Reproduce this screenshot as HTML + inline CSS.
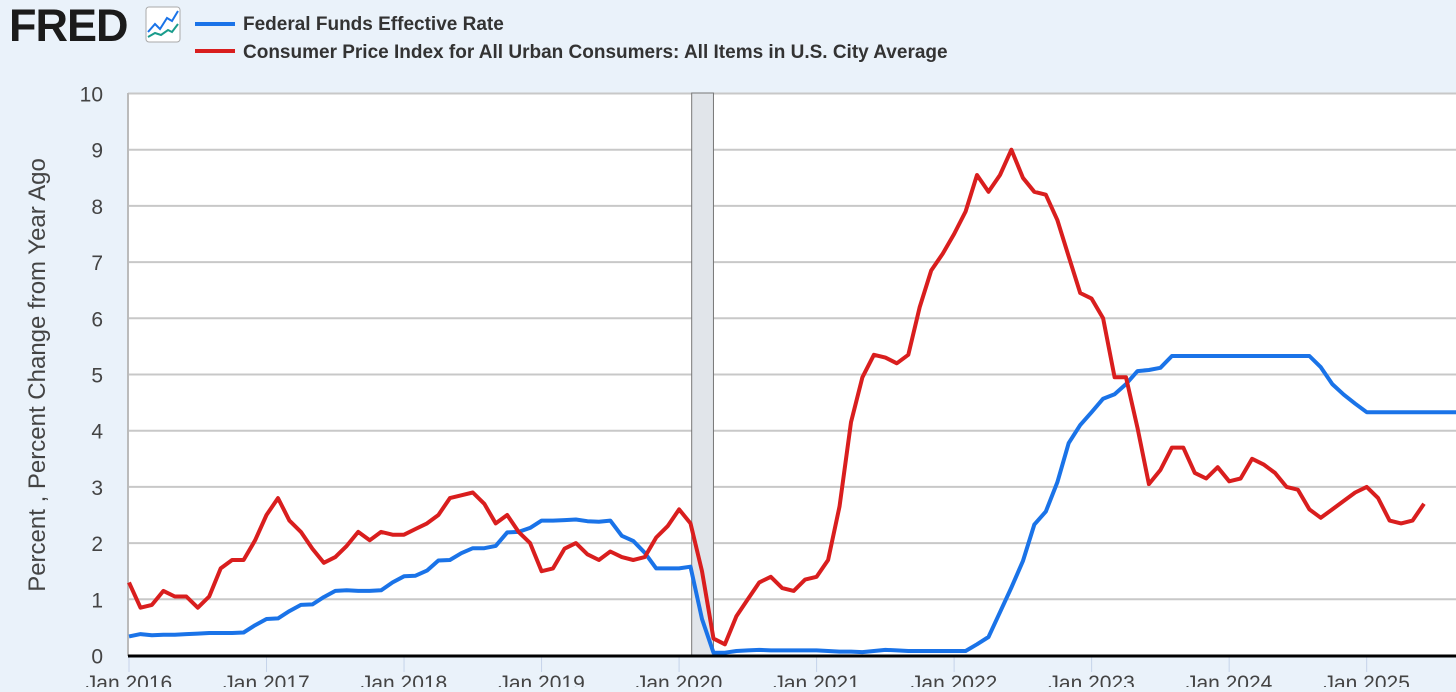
<!DOCTYPE html>
<html><head><meta charset="utf-8"><style>
html,body{margin:0;padding:0;background:#eaf2fa;}
body{width:1456px;height:687px;overflow:hidden;position:relative;font-family:"Liberation Sans",sans-serif;}
</style></head><body>
<svg width="1456" height="687" viewBox="0 0 1456 687" xmlns="http://www.w3.org/2000/svg">
<rect x="0" y="0" width="1456" height="687" fill="#eaf2fa"/>
<text x="9" y="41" font-size="45" font-weight="bold" fill="#1b1b1b" font-family="Liberation Sans, sans-serif" letter-spacing="-1">FRED</text>
<g>
<rect x="146" y="7" width="34" height="35" rx="3" fill="#fff" stroke="#aaa"/>
<polyline points="148,32 155,24 160,29 167,18 172,21 178,11" fill="none" stroke="#1a73e8" stroke-width="2"/>
<polyline points="148,37 155,33 161,35 168,30 172,32 178,24" fill="none" stroke="#1a9c8c" stroke-width="2"/>
</g>
<line x1="195" y1="24" x2="235" y2="24" stroke="#1a73e8" stroke-width="4"/>
<text x="243" y="30" font-size="19" font-weight="bold" fill="#333">Federal Funds Effective Rate</text>
<line x1="195" y1="51" x2="235" y2="51" stroke="#d91e1e" stroke-width="4"/>
<text x="243" y="58" font-size="19" font-weight="bold" fill="#333">Consumer Price Index for All Urban Consumers: All Items in U.S. City Average</text>
<rect x="128" y="93" width="1330" height="563" fill="#fff"/>
<g id="grid"></g>
<g id="rec"></g>
<line x1="128" y1="93" x2="128" y2="656" stroke="#bbb" stroke-width="2"/>
<g id="ylab"></g>
<g id="xlab"></g>
<text transform="translate(45,375) rotate(-90)" text-anchor="middle" font-size="24" fill="#444">Percent , Percent Change from Year Ago</text>
<g id="series"></g>
<line x1="128" y1="656" x2="1456" y2="656" stroke="#000" stroke-width="3"/>
</svg>
<script>
const ffr=[0.34,0.38,0.36,0.37,0.37,0.38,0.39,0.40,0.40,0.40,0.41,0.54,
0.65,0.66,0.79,0.90,0.91,1.04,1.15,1.16,1.15,1.15,1.16,1.30,
1.41,1.42,1.51,1.69,1.70,1.82,1.91,1.91,1.95,2.19,2.20,2.27,
2.40,2.40,2.41,2.42,2.39,2.38,2.40,2.13,2.04,1.83,1.55,1.55,
1.55,1.58,0.65,0.05,0.05,0.08,0.09,0.10,0.09,0.09,0.09,0.09,
0.09,0.08,0.07,0.07,0.06,0.08,0.10,0.09,0.08,0.08,0.08,0.08,
0.08,0.08,0.20,0.33,0.77,1.21,1.68,2.33,2.56,3.08,3.78,4.10,
4.33,4.57,4.65,4.83,5.06,5.08,5.12,5.33,5.33,5.33,5.33,5.33,
5.33,5.33,5.33,5.33,5.33,5.33,5.33,5.33,5.13,4.83,4.64,4.48,
4.33,4.33,4.33,4.33,4.33,4.33,4.33,4.33,4.33];
const cpi=[1.3,0.85,0.9,1.15,1.05,1.05,0.85,1.05,1.55,1.7,1.7,2.05,
2.5,2.8,2.4,2.2,1.9,1.65,1.75,1.95,2.2,2.05,2.2,2.15,
2.15,2.25,2.35,2.5,2.8,2.85,2.9,2.7,2.35,2.5,2.2,2.0,
1.5,1.55,1.9,2.0,1.8,1.7,1.85,1.75,1.7,1.75,2.1,2.3,
2.6,2.35,1.5,0.3,0.2,0.7,1.0,1.3,1.4,1.2,1.15,1.35,
1.4,1.7,2.65,4.15,4.95,5.35,5.3,5.2,5.35,6.2,6.85,7.15,
7.5,7.9,8.55,8.25,8.55,9.0,8.5,8.25,8.2,7.75,7.1,6.45,
6.35,6.0,4.95,4.95,4.05,3.05,3.3,3.7,3.7,3.25,3.15,3.35,
3.1,3.15,3.5,3.4,3.25,3.0,2.95,2.6,2.45,2.6,2.75,2.9,
3.0,2.8,2.4,2.35,2.4,2.7];
const yTicks=[0,1,2,3,4,5,6,7,8,9,10];
const xYears=[2016,2017,2018,2019,2020,2021,2022,2023,2024,2025];
const recession=[49.1,51];
const NS='http://www.w3.org/2000/svg';
const X=m=>129+m*11.46;
const Y=v=>655.5-v*56.2;
function mk(tag,attrs,parent){const e=document.createElementNS(NS,tag);for(const k in attrs)e.setAttribute(k,attrs[k]);parent.appendChild(e);return e;}
const grid=document.getElementById('grid'),ylab=document.getElementById('ylab'),xlab=document.getElementById('xlab'),rec=document.getElementById('rec'),ser=document.getElementById('series');
yTicks.forEach(v=>{
 if(v>0){const g=mk('line',{x1:128,x2:1456,y1:Y(v),y2:Y(v),stroke:'#c8c8c8','stroke-width':2},grid);
 
 }
 const t=mk('text',{x:103,y:Y(v)+8,'text-anchor':'end','font-size':21,fill:'#444'},ylab);
 t.textContent=v;
 
 
});
xYears.forEach((yr,i)=>{
 const x=X(i*12);
 const tk=mk('line',{x1:x,x2:x,y1:656,y2:672,stroke:'#c5d3ea','stroke-width':1},xlab);
 
 
 const t=mk('text',{x:x,y:690,'text-anchor':'middle','font-size':21,fill:'#444'},xlab);
 t.textContent='Jan '+yr;
 
 
});
const r=mk('rect',{x:X(recession[0]),y:93,width:X(recession[1])-X(recession[0]),height:563,fill:'#e1e5ea',stroke:'#777','stroke-width':1},rec);


function line(d,color,name){
 const p=mk('polyline',{points:d.map((v,i)=>X(i).toFixed(1)+','+Y(v).toFixed(1)).join(' '),fill:'none',stroke:color,'stroke-width':4,'stroke-linejoin':'round'},ser);
 
 
}
line(ffr,'#1a73e8','ffr-line');
line(cpi,'#d91e1e','cpi-line');
</script>
</body></html>
